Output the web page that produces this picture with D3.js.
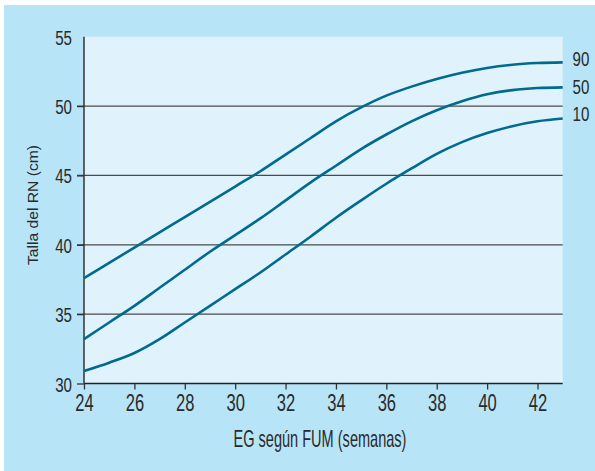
<!DOCTYPE html>
<html>
<head>
<meta charset="utf-8">
<script src="https://cdn.jsdelivr.net/npm/d3@7"></script>
<style>
  html, body { margin: 0; padding: 0; background: #ffffff; }
  svg { display: block; }
  text { font-family: "Liberation Sans", "DejaVu Sans", sans-serif; fill: #2a2a2a; }
</style>
</head>
<body>
<svg id="chart" width="595" height="471"></svg>
<script>
// ---- data ----
const weeks = [24, 25, 26, 27, 28, 29, 30, 31, 32, 33, 34, 35, 36, 37, 38, 39, 40, 41, 42, 43];
const p90 = [37.6, 38.7, 39.8, 40.9, 42.0, 43.1, 44.2, 45.3, 46.5, 47.7, 48.9, 49.9, 50.75, 51.4, 51.95, 52.4, 52.75, 52.98, 53.1, 53.15];
const p50 = [33.2, 34.4, 35.6, 36.9, 38.2, 39.5, 40.7, 41.9, 43.2, 44.5, 45.7, 46.9, 47.95, 48.9, 49.7, 50.35, 50.85, 51.15, 51.3, 51.35];
const p10 = [30.9, 31.5, 32.2, 33.2, 34.4, 35.6, 36.8, 38.0, 39.3, 40.6, 41.95, 43.2, 44.4, 45.5, 46.55, 47.4, 48.05, 48.55, 48.9, 49.1];
const seriesNames = ["90", "50", "10"];
const xTicks = [24, 26, 28, 30, 32, 34, 36, 38, 40, 42];
const yTicks = [30, 35, 40, 45, 50, 55];
const yGrid = [35, 40, 45, 50];
const xTitle = "EG según FUM (semanas)";
const yTitle = "Talla del RN (cm)";

// ---- layout ----
const svg = d3.select("#chart");
const L = 84, R = 562.7, T = 36.7, B = 383.5;
const SX = 0.72; // horizontal condensation of the type

svg.append("rect").attr("x", 4).attr("y", 5).attr("width", 591).attr("height", 466).attr("fill", "#b8e4f8");
svg.append("rect").attr("x", L).attr("y", T).attr("width", R - L).attr("height", B - T).attr("fill", "#e0f3fc");

const x = d3.scaleLinear().domain([24, 43]).range([L, R]);
const y = d3.scaleLinear().domain([30, 55]).range([B, T]);

// gridlines
svg.append("g").selectAll("line").data(yGrid).join("line")
  .attr("x1", L - 7).attr("x2", R)
  .attr("y1", d => y(d)).attr("y2", d => y(d))
  .attr("stroke", "#4a4a4a").attr("stroke-width", 1.2);

// y axis
const yAxis = svg.append("g").attr("transform", `translate(${L},0)`)
  .call(d3.axisLeft(y).tickValues(yTicks).tickSize(7).tickFormat(d3.format("d")));
yAxis.select(".domain").attr("stroke", "#333").attr("stroke-width", 1.5).attr("d", `M0,${B}V${T}`);
yAxis.selectAll(".tick line").attr("stroke", "#333").attr("stroke-width", 1.3)
  .filter(d => d === 55).attr("stroke", "none");
yAxis.selectAll(".tick text")
  .attr("x", 0).attr("dy", "0.36em")
  .attr("transform", `translate(-12,0) scale(${SX},1)`)
  .style("font-size", "21px").style("font-family", "Liberation Sans, sans-serif").attr("fill", "#2a2a2a");

// x axis
const xAxis = svg.append("g").attr("transform", `translate(0,${B})`)
  .call(d3.axisBottom(x).tickValues(xTicks).tickSize(6).tickFormat(d3.format("d")));
xAxis.select(".domain").attr("stroke", "#222").attr("stroke-width", 1.6).attr("d", `M${L},0H${R}`);
xAxis.selectAll(".tick line").attr("stroke", "#333").attr("stroke-width", 1.3);
xAxis.selectAll(".tick text")
  .attr("y", 0).attr("dy", 0)
  .attr("transform", `translate(0,27.5) scale(${SX},1)`)
  .style("font-size", "23px").style("font-family", "Liberation Sans, sans-serif").attr("fill", "#2a2a2a");

// lines
const all = [p90, p50, p10];
const line = d3.line().x((d, i) => x(weeks[i])).y(d => y(d)).curve(d3.curveCatmullRom.alpha(0.5));
svg.append("g").selectAll("path").data(all).join("path")
  .attr("d", line)
  .attr("fill", "none").attr("stroke", "#006a8f").attr("stroke-width", 2.6)
  .attr("stroke-linecap", "butt");

// series labels at right (stacked just right of the line ends)
const labelY = [59, 86.7, 114];
svg.append("g").selectAll("text").data(seriesNames).join("text")
  .attr("transform", (d, i) => `translate(572.5,${labelY[i] + 7.3}) scale(${SX},1)`)
  .style("font-size", "21px")
  .text(d => d);

// titles
function fitText(sel, target) {
  const len = sel.node().getComputedTextLength();
  return target / len;
}
const xt = svg.append("text").style("font-size", "23px").attr("text-anchor", "middle").text(xTitle);
const sxx = fitText(xt, 173);
xt.attr("transform", `translate(320,447) scale(${sxx},1)`);

const yt = svg.append("text").style("font-size", "15.5px").attr("text-anchor", "middle").text(yTitle);
const syy = fitText(yt, 120);
yt.attr("transform", `translate(37.5,205) rotate(-90) scale(${syy},1)`);
</script>
</body>
</html>
